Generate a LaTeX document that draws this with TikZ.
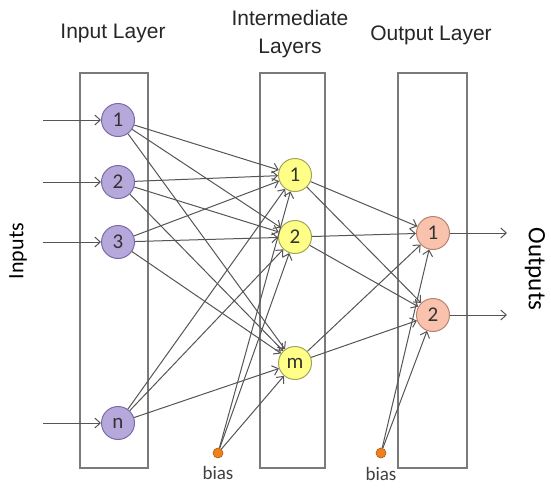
\documentclass[tikz,border=0pt]{standalone}
\usepackage{fontspec}
\setmainfont{Liberation Sans}
\newfontfamily\calib{Carlito}
\usetikzlibrary{arrows.meta}
\definecolor{inFill}{HTML}{B7A8DC}
\definecolor{inLine}{HTML}{7B6AA8}
\definecolor{hidFill}{HTML}{FFFF88}
\definecolor{hidLine}{HTML}{A3A356}
\definecolor{outFill}{HTML}{F9C2AC}
\definecolor{outLine}{HTML}{B9826E}
\definecolor{biasFill}{HTML}{F2801A}
\definecolor{linkGray}{HTML}{555555}
\definecolor{boxGray}{HTML}{7A7A7A}
\tikzset{
  neuron/.style={circle, draw, line width=1pt, minimum size=33pt, inner sep=0pt, font=\calib\fontsize{21}{21}\selectfont, text=black!80},
  inneuron/.style={neuron, fill=inFill, draw=inLine},
  hidneuron/.style={neuron, fill=hidFill, draw=hidLine},
  outneuron/.style={neuron, fill=outFill, draw=outLine},
  biasdot/.style={circle, fill=biasFill, draw=biasFill!70!black, line width=0.6pt, minimum size=10pt, inner sep=0pt},
  link/.style={draw=linkGray, line width=1pt, -{Straight Barb[length=5.5pt,width=10pt]}},
  layerbox/.style={draw=boxGray, line width=1.5pt},
  title/.style={font=\fontsize{21}{28}\selectfont, text=black!85, align=center},
}
\begin{document}
\begin{tikzpicture}[x=1pt, y=-1pt]
\useasboundingbox (0,0) rectangle (551,488);
\draw[layerbox] (80,73) rectangle (148,468); % input box
\draw[layerbox] (260,73) rectangle (325,468); % hidden box
\draw[layerbox] (398,73) rectangle (467,468); % output box
\node[title] (tin) at (113,33) {Input Layer};
\node[title] (thid) at (290,34) {Intermediate\\Layers};
\node[title] (tout) at (431,35) {Output Layer};
\node[rotate=90, font=\calib\fontsize{22}{22}\selectfont] (lin) at (18,251) {Inputs};
\node[rotate=-90, font=\calib\fontsize{25}{25}\selectfont] (lout) at (535,269) {Outputs};
% neurons
\node[inneuron] (i1) at (118,120) {1};
\node[inneuron] (i2) at (118,182) {2};
\node[inneuron] (i3) at (118,242) {3};
\node[inneuron] (in) at (118,423) {n};
\node[hidneuron] (h1) at (295,175) {1};
\node[hidneuron] (h2) at (295,237) {2};
\node[hidneuron] (hm) at (295,363) {m};
\node[outneuron] (o1) at (433,233) {1};
\node[outneuron] (o2) at (433,315) {2};
\node[biasdot] (b1) at (218,453) {};
\node[biasdot] (b2) at (381,453) {};
\node[font=\calib\fontsize{19}{19}\selectfont, text=black!75] (lb1) at (218,473) {bias};
\node[font=\calib\fontsize{19}{19}\selectfont, text=black!75] (lb2) at (381,474) {bias};
% free ends
\coordinate (x1) at (43,120);
\coordinate (x2) at (43,182);
\coordinate (x3) at (43,242);
\coordinate (xn) at (43,423);
\coordinate (y1) at (507,233);
\coordinate (y2) at (507,315);
% connections
\foreach \a in {1,2,3,n} \draw[link] (x\a) -- (i\a);
\foreach \a in {1,2,3,n} \foreach \b in {1,2,m} \draw[link] (i\a) -- (h\b);
\foreach \b in {1,2,m} \draw[link] (b1) -- (h\b);
\foreach \b in {1,2,m} \foreach \c in {1,2} \draw[link] (h\b) -- (o\c);
\foreach \c in {1,2} \draw[link] (b2) -- (o\c);
\foreach \c in {1,2} \draw[link] (o\c) -- (y\c);
\end{tikzpicture}
\end{document}
